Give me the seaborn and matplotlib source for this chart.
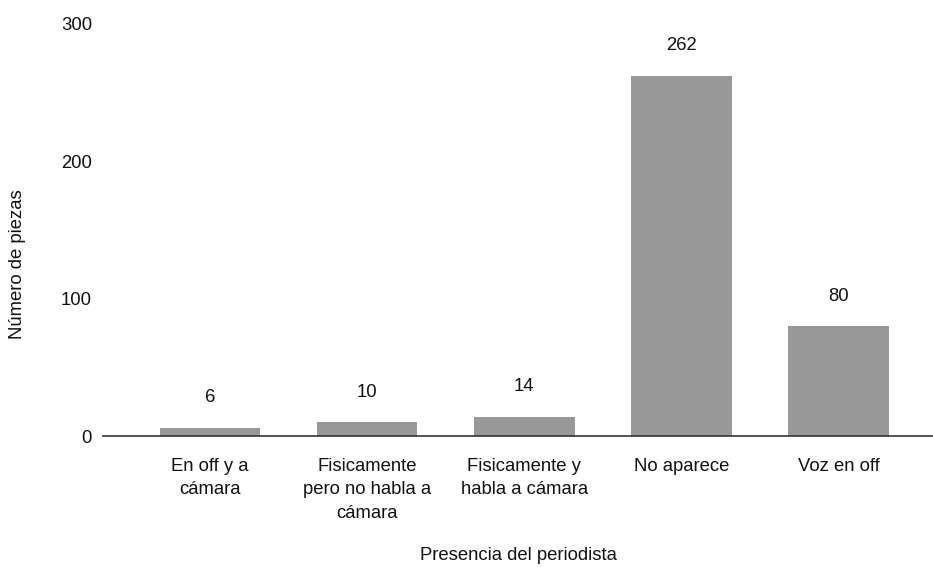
import matplotlib
matplotlib.use("Agg")
import matplotlib.pyplot as plt
import seaborn as sns
import pandas as pd

categorias = [
    "En off y a\ncámara",
    "Fisicamente\npero no habla a\ncámara",
    "Fisicamente y\nhabla a cámara",
    "No aparece",
    "Voz en off",
]
piezas = [6, 10, 14, 262, 80]
yticks = [0, 100, 200, 300]

sns.set_theme(style="white")
plt.rcParams["font.family"] = ["Liberation Sans", "DejaVu Sans"]

TXT = "#111111"
FS = 13.3

df = pd.DataFrame({"categoria": categorias, "piezas": piezas})

fig = plt.figure(figsize=(9.33, 5.67), dpi=100)
ax = fig.add_axes([0.1104, 0.231, 0.8896, 0.727])

sns.barplot(data=df, x="categoria", y="piezas", color="#999999",
            saturation=1, width=0.64, ax=ax)

for p, v in zip(ax.patches, piezas):
    p.set_edgecolor("none")
    ax.annotate(f"{v}", (p.get_x() + p.get_width() / 2, v),
                xytext=(0, 15.5), textcoords="offset points",
                ha="center", va="bottom", fontsize=FS, color=TXT)

ax.set_xlim(-0.68, 4.6)
ax.set_ylim(0, 300)
ax.set_yticks(yticks)
ax.set_yticklabels([str(t) for t in yticks], fontsize=FS, color=TXT)
ax.tick_params(axis="y", length=0, pad=8)
ax.tick_params(axis="x", length=0, pad=15.5, labelsize=FS, labelcolor=TXT)
for lbl in ax.get_xticklabels():
    lbl.set_linespacing(1.5)

for s in ["top", "right", "left"]:
    ax.spines[s].set_visible(False)
ax.spines["bottom"].set_color("#333333")
ax.spines["bottom"].set_linewidth(1.2)

ax.set_xlabel("Presencia del periodista", fontsize=FS, color=TXT)
ax.xaxis.set_label_coords(0.5, -0.289)
ax.xaxis.label.set_va("center")
ax.set_ylabel("Número de piezas", fontsize=FS, color=TXT)
ax.yaxis.set_label_coords(-0.1036, 0.417)
ax.yaxis.label.set_va("center")

fig.savefig("out.png", dpi=100, facecolor="white")
